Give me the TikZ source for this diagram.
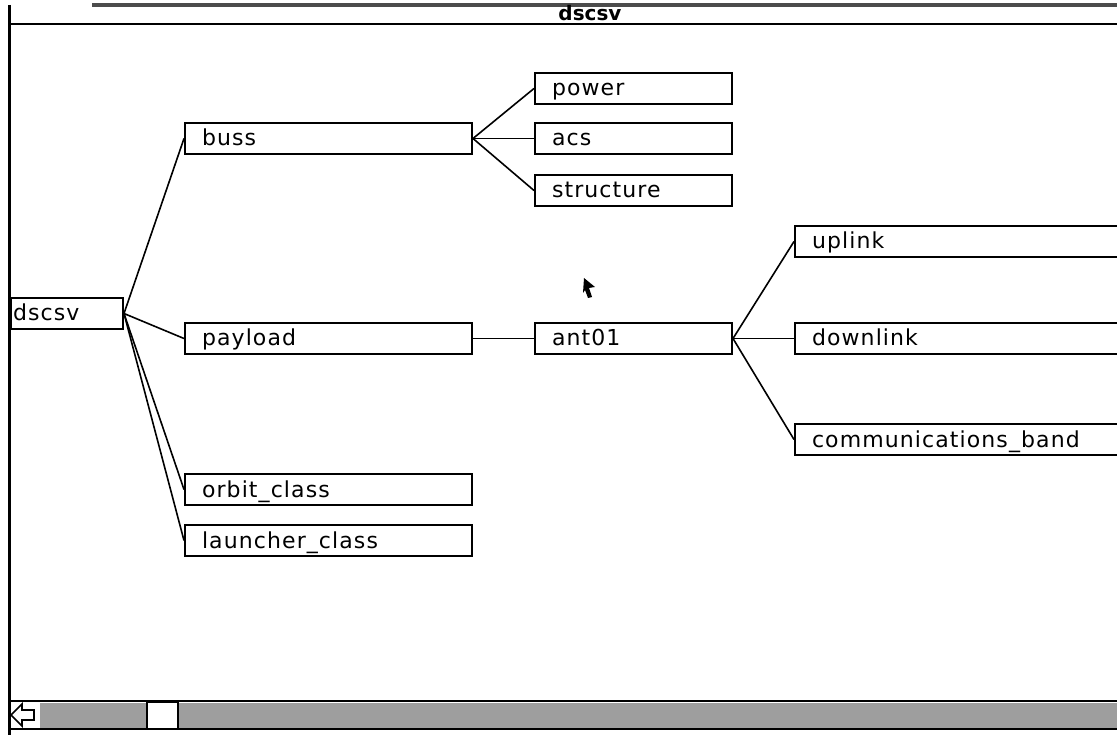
\documentclass[tikz,border=0pt]{standalone}
\usepackage{fontspec}
\usepackage{tikz}
\usetikzlibrary{positioning}
\newfontfamily\boxfont[LetterSpace=5]{DejaVu Sans}
\newfontfamily\titlefont{DejaVu Sans}

\begin{document}
\begin{tikzpicture}[
    x=1pt, y=-1pt,
    box/.style={draw, line width=2pt, fill=white, minimum height=31pt, inner xsep=17pt, inner ysep=0pt,
      align=left, text height=16pt, text depth=1pt, font={\boxfont\fontsize{22}{26}\selectfont}},
    rootbox/.style={box, inner xsep=2pt, text width=108pt},
    colone/.style={box, text width=253pt},
    coltwo/.style={box, text width=163pt},
    colthree/.style={box, text width=330pt},
    link/.style={line width=1.6pt},
    dither/.style={fill=black!38}
  ]
    \useasboundingbox (0,0) rectangle (1117,735);
    \clip (0,0) rectangle (1117,735);

    % window frame
    \fill[black!70] (92,3) rectangle (1117,7);
    \draw[line width=2pt] (9,24) -- (1117,24);
    \draw[line width=3pt] (9.5,5) -- (9.5,735);
    \node[font={\titlefont\bfseries\fontsize{20}{22}\selectfont}, inner sep=0pt] (title) at (590,13) {dscsv};

    % tree
    \node[rootbox, anchor=north west] (dscsv) at (10,297) {dscsv};
    \node[colone, right=60pt of dscsv, yshift=-25pt] (payload) {payload};
    \node[colone, above=167pt of payload] (buss) {buss};
    \node[colone, below=118pt of payload] (orbit) {orbit\_class};
    \node[colone, below=18pt of orbit] (launcher) {launcher\_class};

    \node[coltwo, right=61pt of buss] (acs) {acs};
    \node[coltwo, above=17pt of acs] (power) {power};
    \node[coltwo, below=19pt of acs] (structure) {structure};
    \node[coltwo, right=61pt of payload] (ant) {ant01};

    \node[colthree, right=61pt of ant] (downlink) {downlink};
    \node[colthree, above=64pt of downlink] (uplink) {uplink};
    \node[colthree, below=68pt of downlink] (comband) {communications\_band};

    \draw[link] (dscsv.east) -- (buss.west);
    \draw[link] (dscsv.east) -- (payload.west);
    \draw[link] (dscsv.east) -- (orbit.west);
    \draw[link] (dscsv.east) -- (launcher.west);
    \draw[link] (buss.east) -- (power.west);
    \draw[link] (buss.east) -- (acs.west);
    \draw[link] (buss.east) -- (structure.west);
    \draw[link] (payload.east) -- (ant.west);
    \draw[link] (ant.east) -- (uplink.west);
    \draw[link] (ant.east) -- (downlink.west);
    \draw[link] (ant.east) -- (comband.west);

    % pointer
    \fill (584,278) -- (595,287) -- (589,288) -- (592,297) -- (588,298) -- (585,290) -- (583,293) -- cycle;

    % scroll bar
    \fill[dither] (40,703) rectangle (147,728);
    \fill[dither] (178,703) rectangle (1117,728);
    \draw[line width=1.6pt, fill=white] (147,702) rectangle (178,729);
    \draw[line width=2pt] (9,729) -- (1117,729);
    \draw[line width=2pt] (9,701) -- (1117,701);
    \draw[line width=1.6pt] (11,715) -- (22,704) -- (22,710) -- (34,710) -- (34,720) -- (22,720) -- (22,726) -- cycle;
  \end{tikzpicture}
\end{document}
